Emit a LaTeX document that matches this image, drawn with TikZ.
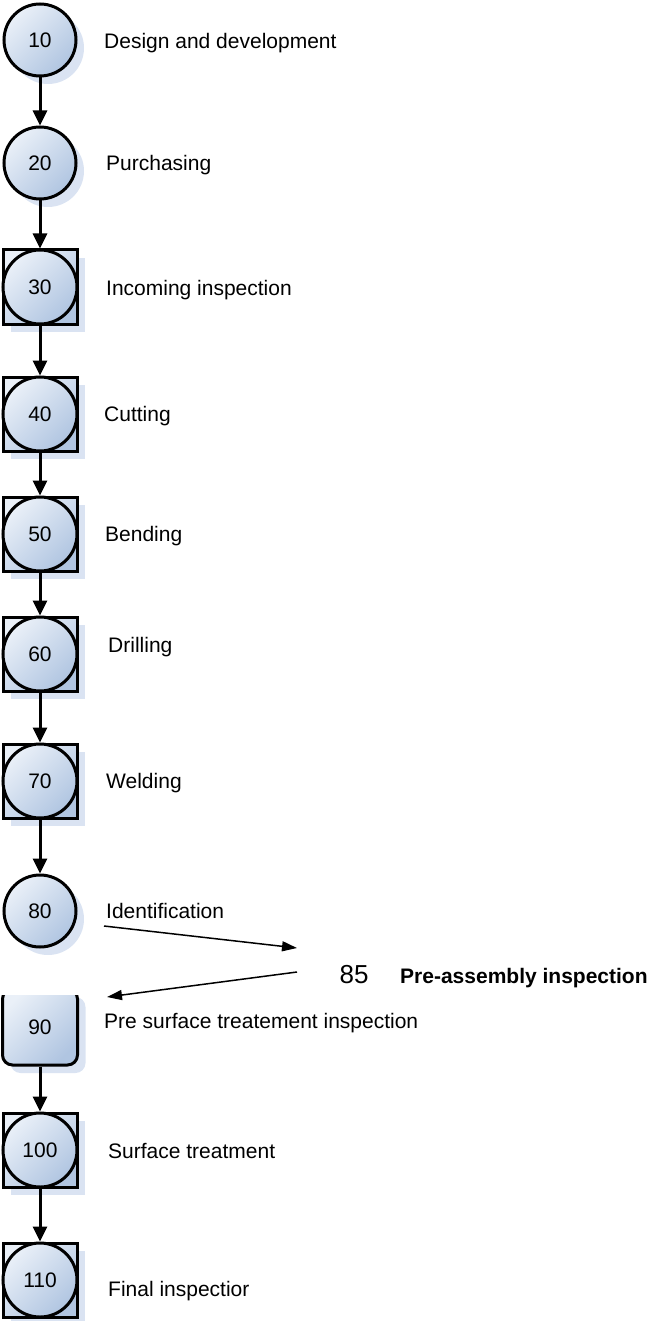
\documentclass[tikz,border=0pt]{standalone}
\usepackage{fontspec}
\setmainfont{Liberation Sans}
\usetikzlibrary{arrows.meta,shadows}
\definecolor{opfillA}{RGB}{234,240,248}
\definecolor{opfillB}{RGB}{176,197,225}
\definecolor{opshadow}{RGB}{218,227,242}
\tikzset{
	opshade/.style={shading=axis, top color=opfillA, bottom color=opfillB, shading angle=45},
	opshadow/.style={drop shadow={shadow xshift=8pt, shadow yshift=-8pt, fill=opshadow, opacity=1}},
	opcircle/.style={circle, draw, line width=3pt, minimum size=72pt, inner sep=0pt, opshade},
	opsquare/.style={rectangle, draw, line width=3pt, minimum size=74pt, inner sep=0pt, opshade},
	opround/.style={rectangle, rounded corners=10pt, draw, line width=3pt, minimum width=75pt, minimum height=76pt, inner sep=0pt, opshade},
	steplabel/.style={anchor=base west, inner sep=0pt},
	flow/.style={line width=3pt, -{Triangle[length=15pt,width=14pt]}},
	thinflow/.style={line width=1.5pt, -{Triangle[length=15pt,width=10pt]}}
}
\begin{document}
\begin{tikzpicture}[x=1pt, y=-1pt, font=\fontsize{21}{25}\selectfont]
	\useasboundingbox (0,0) rectangle (650,1321);
	% plain operations
	\foreach \num/\ypos in {10/40, 20/163, 80/911}
	\node[opcircle, opshadow] (n\num) at (40,\ypos) {\num};
	% operation with inspection
	\foreach \num/\ypos in {30/287, 40/414, 50/534, 60/654, 70/781, 100/1150, 110/1280} {
		\node[opsquare, opshadow] (n\num) at (40,\ypos) {};
		\node[opcircle, minimum size=74pt] (c\num) at (40,\ypos) {\num};
	}
	\begin{scope}
		\clip (0,995) rectangle (120,1100);
		\node[opround, opshadow] (n90) at (40,1027) {90};
	\end{scope}
	% step texts
	\foreach \num/\xpos/\ypos/\txt in {10/104/49/Design and development, 20/106/171/Purchasing,
		30/106/295/Incoming inspection, 40/104/421/Cutting, 50/105/541/Bending, 60/108/652/Drilling,
		70/106/788/Welding, 80/106/918/Identification, 90/104/1028/Pre surface treatement inspection,
		100/108/1158/Surface treatment, 110/108/1296/Final inspectior}
	\node[steplabel] (l\num) at (\xpos,\ypos) {\txt};
	\node[font=\fontsize{26}{30}\selectfont] (n85) at (354,975) {85};
	\node[steplabel, font=\fontsize{21}{25}\selectfont\bfseries] (l85) at (400,983) {Pre-assembly inspection};
	% connectors
	\foreach \a/\b in {10/20, 20/30, 30/40, 40/50, 50/60, 60/70, 70/80, 90/100, 100/110}
	\draw[flow] (n\a) -- (n\b);
	\coordinate (in85) at (297,948);
	\coordinate (out85) at (297,972);
	\coordinate (out80) at (104,926);
	\coordinate (in90) at (107,997);
	\draw[thinflow] (out80) -- (in85);
	\draw[thinflow] (out85) -- (in90);
\end{tikzpicture}
\end{document}
